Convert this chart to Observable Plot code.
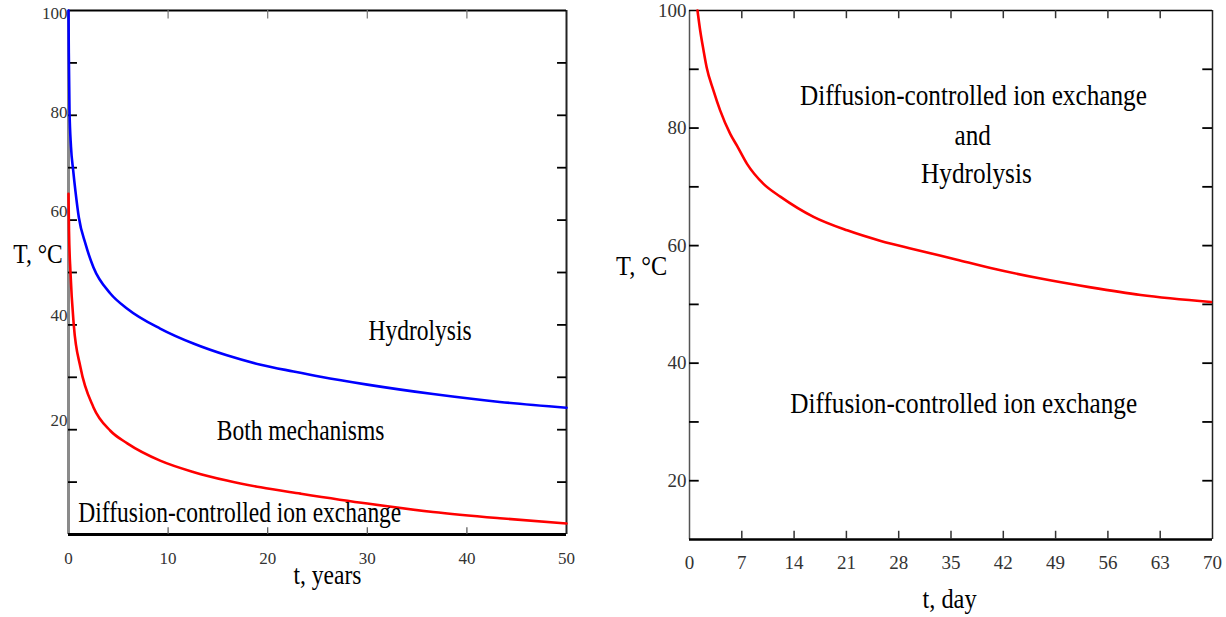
<!DOCTYPE html>
<html><head><meta charset="utf-8">
<script src="https://cdn.jsdelivr.net/npm/d3@7"></script>
<script src="https://cdn.jsdelivr.net/npm/@observablehq/plot@0.6"></script>
<style>
body{margin:0;background:#fff;}
#wrap{display:flex;width:1226px;height:617px;overflow:hidden;}
#wrap svg{display:block;}
</style></head><body><div id="wrap"></div>
<script>
// ---------- Left panel data (t in years, T in °C) ----------
const hydroYears = [0, 0.03, 0.1, 0.25, 0.47, 0.7, 1.04, 1.7, 2.5, 4.2, 5.9, 9.2, 12.6, 15.9, 19.3, 22.6, 25.3, 30, 36.6, 43.3, 50];
const hydroTemp  = [100, 92, 81, 74, 69.5, 65.5, 60.5, 55.5, 51, 46, 43.1, 39.3, 36.4, 34.2, 32.4, 31.1, 30.1, 28.6, 26.8, 25.3, 24.2];
const diffYears  = [0, 0.05, 0.2, 0.53, 1.2, 2.5, 4.2, 5.9, 9.2, 12.6, 15.9, 19.3, 23.3, 30, 36.6, 43.3, 50];
const diffTemp   = [65, 58, 50, 40, 31.9, 24.3, 19.8, 17.4, 14.1, 11.9, 10.3, 9.0, 7.8, 5.9, 4.3, 3.1, 2.1];
const leftXTicks = [0, 10, 20, 30, 40, 50];
const leftYTop   = [100];
const leftY80    = [80];
const leftYLow   = [20, 40, 60];
const leftYMinor = [10, 20, 30, 40, 50, 60, 70, 80, 90];
const leftXInner = [10, 20, 30, 40];
const leftNotes  = [
  {text: "Hydrolysis", t: 35.3, T: 38.8},
  {text: "Both mechanisms", t: 23.3, T: 19.7},
  {text: "Diffusion-controlled ion exchange", t: 17.2, T: 4.1}
];
const leftTitles = [
  {text: "t, years", t: 26.0, T: -7.8},
  {text: "T, °C", t: -3.06, T: 53.6}
];

// ---------- Right panel data (t in days, T in °C) ----------
const dayT    = [1.07, 1.43, 1.88, 2.3, 3.2, 4.1, 5.45, 6.35, 7.7, 9.9, 12.2, 16.6, 21.1, 25.6, 30.0, 35.8, 40.3, 47.0, 53.7, 60.4, 69.8];
const dayTemp = [100, 96.6, 93.2, 90.3, 86.4, 83.0, 79.0, 77.0, 73.9, 70.5, 68.3, 64.9, 62.6, 60.8, 59.4, 57.6, 56.2, 54.4, 52.9, 51.6, 50.4];
const rightXTicks = [0, 7, 14, 21, 28, 35, 42, 49, 56, 63, 70];
const rightXInner = [7, 14, 21, 28, 35, 42, 49, 56, 63];
const rightYTicks = [20, 40, 60, 80, 100];
const rightYMinor = [20, 30, 40, 50, 60, 70, 80, 90];
const rightNotes = [
  {text: "Diffusion-controlled ion exchange", t: 38.0, T: 85.4},
  {text: "and", t: 37.9, T: 78.6},
  {text: "Hydrolysis", t: 38.4, T: 72.1},
  {text: "Diffusion-controlled ion exchange", t: 36.7, T: 33.0}
];
const rightTitles = [
  {text: "t, day", t: 34.8, T: -0.1},
  {text: "T, °C", t: -6.4, T: 56.6}
];

const FONT = "'Liberation Serif', 'Times New Roman', serif";
const zip = (a, b) => a.map((v, i) => ({t: v, T: b[i]}));
const lbl = d => String(d);

const left = Plot.plot({
  width: 600, height: 617,
  marginLeft: 68, marginRight: 34, marginTop: 10, marginBottom: 83,
  x: {domain: [0, 50], axis: null},
  y: {domain: [0, 100], axis: null},
  style: {fontFamily: FONT, background: "white", overflow: "visible"},
  marks: [
    Plot.ruleX([0], {stroke: "#8a8a8a", strokeWidth: 3}),
    Plot.ruleX([50], {stroke: "#222", strokeWidth: 2}),
    Plot.ruleY([0], {stroke: "#000", strokeWidth: 3}),
    Plot.ruleY([100], {stroke: "#000", strokeWidth: 2}),
    Plot.ruleY(leftYMinor, {y: d => d, x1: 0, x2: 0.9, stroke: "#000", strokeWidth: 1.8}),
    Plot.ruleY(leftYMinor, {y: d => d, x1: 49.1, x2: 50, stroke: "#000", strokeWidth: 1.8}),
    Plot.ruleX(leftXInner, {x: d => d, y1: 0, y2: 1.3, stroke: "#555", strokeWidth: 1.2}),
    Plot.ruleX(leftXInner, {x: d => d, y1: 98.4, y2: 100, stroke: "#777", strokeWidth: 1.2}),
    Plot.line(zip(hydroYears, hydroTemp), {x: "t", y: "T", stroke: "#0000ff", strokeWidth: 2.6, curve: "monotone-x"}),
    Plot.line(zip(diffYears, diffTemp), {x: "t", y: "T", stroke: "#ff0000", strokeWidth: 2.6, curve: "monotone-x"}),
    Plot.text(leftYTop, {x: 0, y: d => d, text: lbl, textAnchor: "end", dx: -1, dy: 3, fontSize: 17, fill: "#333"}),
    Plot.text(leftY80, {x: 0, y: d => d, text: lbl, textAnchor: "end", dx: -1, dy: -3, fontSize: 17, fill: "#333"}),
    Plot.text(leftYLow, {x: 0, y: d => d, text: lbl, textAnchor: "end", dx: -1, dy: -9, fontSize: 17, fill: "#333"}),
    Plot.text(leftXTicks, {x: d => d, y: 0, text: lbl, dy: 24, fontSize: 17, fill: "#333"}),
    Plot.text(leftNotes, {x: "t", y: "T", text: "text", fontSize: 29, dy: 9, fill: "#000", ariaDescription: "note"}),
    Plot.text(leftTitles, {x: "t", y: "T", text: "text", fontSize: 28, dy: 9, fill: "#000", ariaDescription: "title"})
  ]
});

const right = Plot.plot({
  width: 626, height: 617,
  marginLeft: 89, marginRight: 14, marginTop: 10, marginBottom: 78,
  x: {domain: [0, 70], axis: null},
  y: {domain: [10, 100], axis: null},
  style: {fontFamily: FONT, background: "white", overflow: "visible"},
  marks: [
    Plot.ruleX([0], {stroke: "#555", strokeWidth: 1.5}),
    Plot.ruleX([70], {stroke: "#222", strokeWidth: 1.5}),
    Plot.ruleY([10], {stroke: "#000", strokeWidth: 2.5}),
    Plot.ruleY([100], {stroke: "#000", strokeWidth: 1.5}),
    Plot.ruleY(rightYMinor, {y: d => d, x1: 0, x2: 1.3, stroke: "#000", strokeWidth: 1.8}),
    Plot.ruleY(rightYMinor, {y: d => d, x1: 68.7, x2: 70, stroke: "#000", strokeWidth: 1.8}),
    Plot.ruleX(rightXInner, {x: d => d, y1: 10, y2: 11.4, stroke: "#333", strokeWidth: 1.5}),
    Plot.ruleX(rightXInner, {x: d => d, y1: 98.6, y2: 100, stroke: "#333", strokeWidth: 1.5}),
    Plot.line(zip(dayT, dayTemp), {x: "t", y: "T", stroke: "#ff0000", strokeWidth: 2.6, curve: "monotone-x"}),
    Plot.text(rightYTicks, {x: 0, y: d => d, text: lbl, textAnchor: "end", dx: -3, fontSize: 19, fill: "#333"}),
    Plot.text(rightXTicks, {x: d => d, y: 10, text: lbl, dy: 23, fontSize: 19, fill: "#333"}),
    Plot.text(rightNotes, {x: "t", y: "T", text: "text", fontSize: 29, dy: 9, fill: "#000", ariaDescription: "note"}),
    Plot.text(rightTitles, {x: "t", y: "T", text: "text", fontSize: 28, dy: 9, fill: "#000", ariaDescription: "title"})
  ]
});

const wrap = document.getElementById("wrap");
wrap.appendChild(left);
wrap.appendChild(right);

// horizontally condense the serif lettering, like the original figure
function squeeze(svg, label, s) {
  svg.querySelectorAll(`g[aria-description="${label}"] text`).forEach(t => {
    const tr = t.getAttribute("transform") || "";
    const x = t.getAttribute("x"), y = t.getAttribute("y");
    let extra = "";
    if (x != null || y != null) {
      extra = ` translate(${+x || 0},${+y || 0})`;
      t.removeAttribute("x"); t.removeAttribute("y");
    }
    t.setAttribute("transform", `${tr}${extra} scale(${s},1)`);
  });
}
squeeze(left, "note", 0.81);
squeeze(left, "title", 0.84);
squeeze(right, "note", 0.87);
squeeze(right, "title", 0.87);
</script>
</body></html>
